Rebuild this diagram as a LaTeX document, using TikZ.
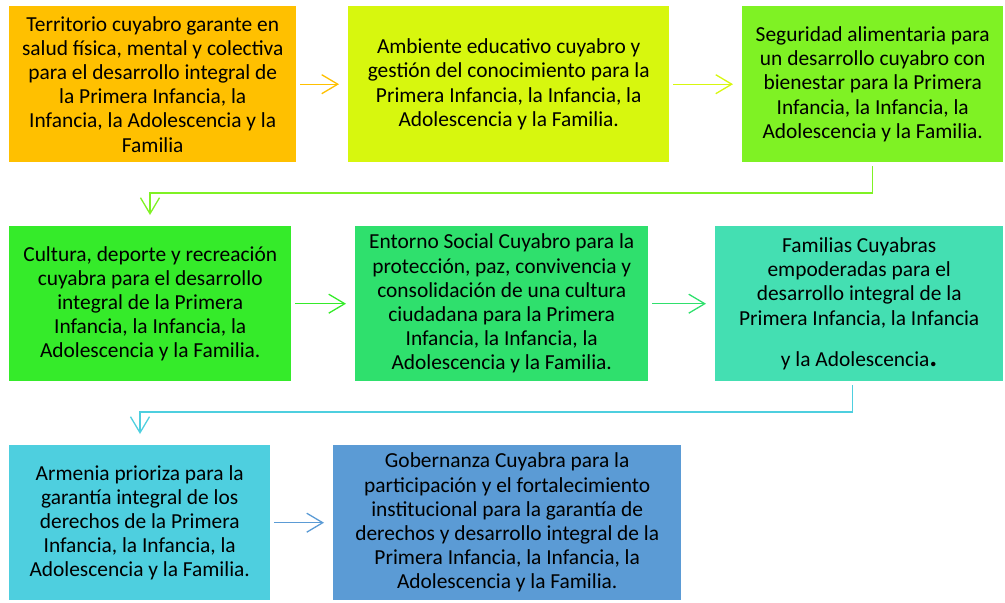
\documentclass[tikz,border=0pt]{standalone}
\usepackage{fontspec}
\setmainfont{Carlito}
\usetikzlibrary{arrows.meta, calc}
\definecolor{c1}{HTML}{FFC000}
\definecolor{c2}{HTML}{D7F70E}
\definecolor{c3}{HTML}{7FF224}
\definecolor{c4}{HTML}{35EB2A}
\definecolor{c5}{HTML}{2FE06D}
\definecolor{c6}{HTML}{44DFB2}
\definecolor{c7}{HTML}{4ECFDF}
\definecolor{c8}{HTML}{5B9BD5}

\begin{document}
\begin{tikzpicture}[
  x=1pt, y=-1pt,
  font=\fontsize{21.4}{24.2}\selectfont,
  >={Straight Barb[length=16pt, width=19pt]},
  goal/.style={anchor=north west, align=center, inner sep=0pt,
               minimum height=156pt},
  arr/.style={->, line width=1.3pt, shorten <=4pt, shorten >=9pt},
  turn/.style={->, line width=1.3pt, shorten <=4pt, shorten >=11pt},
  ]
\useasboundingbox (0,0) rectangle (1005,603);
% row 1
\node[goal, fill=c1, minimum width=287pt] (t1) at (9,6) {
  Territorio cuyabro garante en\\
  salud física, mental y colectiva\\
  para el desarrollo integral de\\
  la Primera Infancia, la\\
  Infancia, la Adolescencia y la\\
  Familia};
\node[goal, fill=c2, minimum width=321pt] (t2) at (348,6) {
  Ambiente educativo cuyabro y\\
  gestión del conocimiento para la\\
  Primera Infancia, la Infancia, la\\
  Adolescencia y la Familia.};
\node[goal, fill=c3, minimum width=261pt] (t3) at (742,6) {
  Seguridad alimentaria para\\
  un desarrollo cuyabro con\\
  bienestar para la Primera\\
  Infancia, la Infancia, la\\
  Adolescencia y la Familia.};
% row 2
\node[goal, fill=c4, minimum width=282pt, minimum height=155pt] (t4) at (9,226) {
  Cultura, deporte y recreación\\
  cuyabra para el desarrollo\\
  integral de la Primera\\
  Infancia, la Infancia, la\\
  Adolescencia y la Familia.};
\node[goal, fill=c5, minimum width=293pt, minimum height=155pt] (t5) at (355,226) {
  Entorno Social Cuyabro para la\\
  protección, paz, convivencia y\\
  consolidación de una cultura\\
  ciudadana para la Primera\\
  Infancia, la Infancia, la\\
  Adolescencia y la Familia.};
\node[goal, fill=c6, minimum width=288pt, minimum height=155pt] (t6) at (715,226) {
  Familias Cuyabras\\
  empoderadas para el\\
  desarrollo integral de la\\
  Primera Infancia, la Infancia\\[17pt]
  y la Adolescencia{\fontsize{30}{24}\selectfont\textbf{.}}};
% row 3
\node[goal, fill=c7, minimum width=261pt, minimum height=155pt] (t7) at (9,445) {
  Armenia prioriza para la\\
  garantía integral de los\\
  derechos de la Primera\\
  Infancia, la Infancia, la\\
  Adolescencia y la Familia.};
\node[goal, fill=c8, minimum width=348pt, minimum height=155pt] (t8) at (333,445) {
  Gobernanza Cuyabra para la\\
  participación y el fortalecimiento\\
  institucional para la garantía de\\
  derechos y desarrollo integral de la\\
  Primera Infancia, la Infancia, la\\
  Adolescencia y la Familia.};
% connectors
\coordinate (k1) at (150,193);
\coordinate (k2) at (140,412);
\draw[arr, draw=c1] (t1) -- (t2);
\draw[arr, draw=c2] (t2) -- (t3);
\draw[turn, draw=c3] (t3.south) |- (k1) -- (k1 |- t4.north);
\draw[arr, draw=c4] (t4) -- (t5);
\draw[arr, draw=c5] (t5) -- (t6);
\draw[turn, draw=c7] ($(t6.south)+(-7,0)$) |- (k2) -- (k2 |- t7.north);
\draw[arr, draw=c8] (t7) -- (t8);
\end{tikzpicture}
\end{document}
